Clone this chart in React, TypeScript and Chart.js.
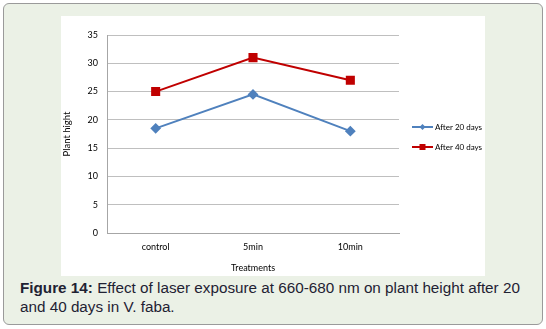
import React, { useEffect, useRef } from "react";
import { Chart, registerables } from "chart.js";

Chart.register(...registerables);

const categories = ["control", "5min", "10min"];
const after20 = [18.5, 24.5, 18];
const after40 = [25, 31, 27];
const seriesNames = ["After 20 days", "After 40 days"];
const yTicks = [0, 5, 10, 15, 20, 25, 30, 35];

const BLUE = "#4F81BD";
const RED = "#C00000";
const FONT = "Lato, 'Open Sans', sans-serif";

const legendPlugin = {
  id: "sideLegend",
  afterDraw(chart: any) {
    const ctx = chart.ctx;
    const items = [
      { name: seriesNames[0], color: BLUE, style: "rectRot" },
      { name: seriesNames[1], color: RED, style: "rect" },
    ];
    ctx.save();
    items.forEach((it, i) => {
      const y = 111 + i * 20;
      const x0 = 351;
      ctx.strokeStyle = it.color;
      ctx.lineWidth = 2;
      ctx.beginPath();
      ctx.moveTo(x0, y);
      ctx.lineTo(x0 + 21, y);
      ctx.stroke();
      ctx.fillStyle = it.color;
      if (it.style === "rect") {
        ctx.fillRect(x0 + 10.5 - 3, y - 3, 6, 6);
      } else {
        ctx.beginPath();
        ctx.moveTo(x0 + 10.5, y - 3);
        ctx.lineTo(x0 + 13.5, y);
        ctx.lineTo(x0 + 10.5, y + 3);
        ctx.lineTo(x0 + 7.5, y);
        ctx.closePath();
        ctx.fill();
      }
      ctx.fillStyle = "#000";
      ctx.font = "8px " + FONT;
      ctx.textBaseline = "middle";
      ctx.fillText(it.name, x0 + 23, y);
    });
    ctx.restore();
  },
};

function ChartBox() {
  const ref = useRef<HTMLCanvasElement>(null);
  useEffect(() => {
    if (!ref.current) return;
    const chart = new Chart(ref.current, {
      type: "line",
      data: {
        labels: categories,
        datasets: [
          {
            label: seriesNames[0],
            data: after20,
            borderColor: BLUE,
            backgroundColor: BLUE,
            borderWidth: 2,
            pointStyle: "rectRot",
            pointRadius: 4,
            pointHoverRadius: 4,
            tension: 0,
          },
          {
            label: seriesNames[1],
            data: after40,
            borderColor: RED,
            backgroundColor: RED,
            borderWidth: 2,
            pointStyle: "rect",
            pointRadius: 5,
            pointHoverRadius: 5,
            tension: 0,
          },
        ],
      },
      options: {
        animation: false,
        responsive: false,
        maintainAspectRatio: false,
        layout: { padding: { left: 0, top: 19, right: 86, bottom: 3 } },
        plugins: { legend: { display: false }, tooltip: { enabled: false } },
        scales: {
          x: {
            offset: true,
            grid: { display: false, drawTicks: false },
            border: { display: true, color: "#A6A6A6", width: 1 },
            ticks: {
              color: "#000",
              font: { family: FONT, size: 9 },
              padding: 9,
            },
            title: {
              display: true,
              text: "Treatments",
              color: "#000",
              font: { family: FONT, size: 9 },
              padding: { top: 4, bottom: 0 },
            },
            afterFit(scale: any) {
              scale.height = 40;
            },
          },
          y: {
            min: 0,
            max: 35,
            afterBuildTicks(scale: any) {
              scale.ticks = yTicks.map((v) => ({ value: v }));
            },
            grid: { color: "#BFBFBF", drawTicks: false, lineWidth: 1 },
            border: { display: true, color: "#A6A6A6", width: 1 },
            ticks: {
              color: "#000",
              font: { family: FONT, size: 9 },
              padding: 9,
            },
            title: {
              display: true,
              text: "Plant hight",
              color: "#000",
              font: { family: FONT, size: 9.5 },
              padding: { top: 0, bottom: 6 },
            },
            afterFit(scale: any) {
              scale.width = 46;
            },
          },
        },
      },
      plugins: [legendPlugin],
    } as any);
    return () => chart.destroy();
  }, []);
  return <canvas ref={ref} width={424} height={260} style={{ display: "block" }} />;
}

export default function App() {
  return (
    <div style={{ position: "fixed", left: 0, top: 0, width: 546, height: 329, background: "#fff" }}>
      <div
        style={{
          position: "absolute",
          left: 3,
          top: 3,
          width: 538,
          height: 320,
          border: "1px solid #9A9A9A",
          borderRadius: 6,
          background: "#EBF1E6",
        }}
      />
      <div style={{ position: "absolute", left: 61, top: 16, width: 424, height: 260, background: "#fff" }}>
        <ChartBox />
      </div>
      <div
        style={{
          position: "absolute",
          left: 20,
          top: 278,
          width: 520,
          fontFamily: "'Liberation Sans', Arial, sans-serif",
          fontSize: 15.25,
          lineHeight: "19px",
          color: "#1F2233",
        }}
      >
        <b>Figure 14:</b> Effect of laser exposure at 660-680 nm on plant height after 20 and 40 days in V. faba.
      </div>
    </div>
  );
}
